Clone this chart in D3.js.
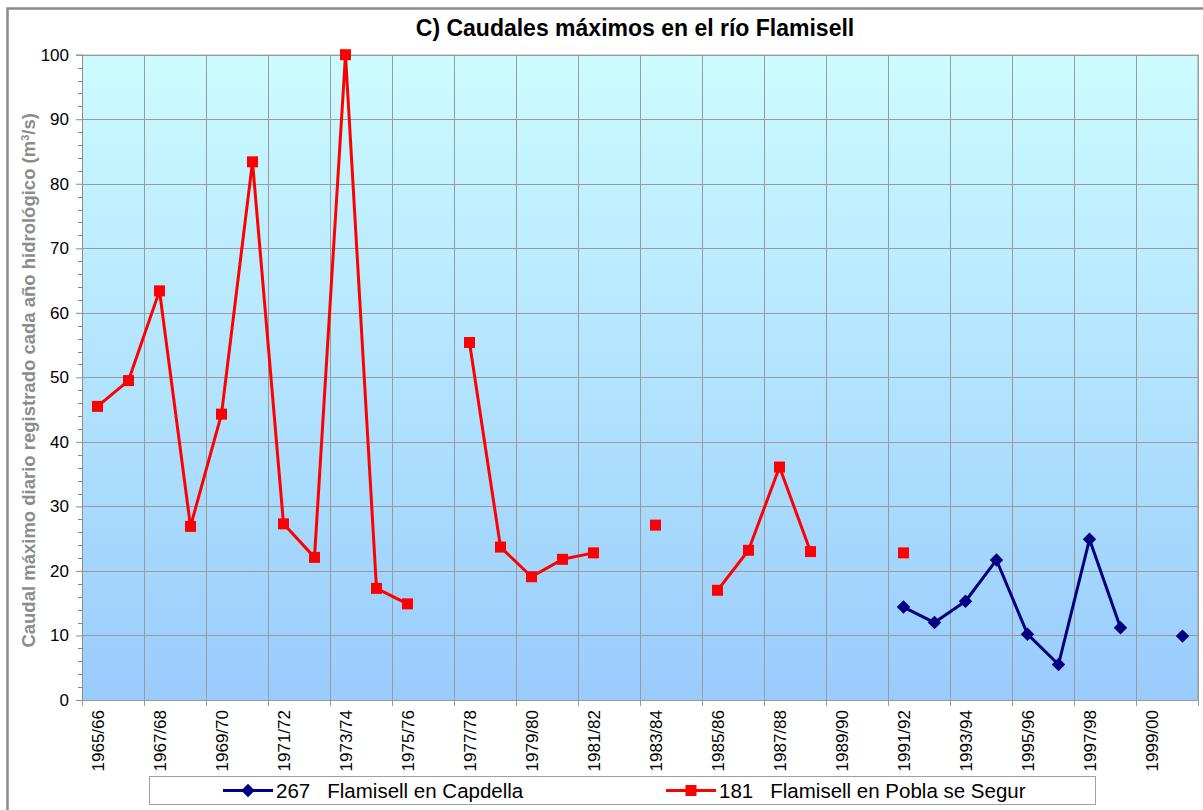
<!DOCTYPE html>
<html>
<head>
<meta charset="utf-8">
<script src="https://cdn.jsdelivr.net/npm/d3@7"></script>
<style>
  html, body { margin: 0; padding: 0; background: #fff; }
  svg { display: block; font-family: Arial, "Liberation Sans", sans-serif; }
</style>
</head>
<body>
<svg id="chart" width="1203" height="810"></svg>
<script>
// Hydrological years (36 seasons)
const years = [
  "1965/66","1966/67","1967/68","1968/69","1969/70","1970/71","1971/72","1972/73",
  "1973/74","1974/75","1975/76","1976/77","1977/78","1978/79","1979/80","1980/81",
  "1981/82","1982/83","1983/84","1984/85","1985/86","1986/87","1987/88","1988/89",
  "1989/90","1990/91","1991/92","1992/93","1993/94","1994/95","1995/96","1996/97",
  "1997/98","1998/99","1999/00","2000/01"
];

// Gauge 267 – Flamisell en Capdella (m3/s)
const capdella = [
  null,null,null,null,null,null,null,null,
  null,null,null,null,null,null,null,null,
  null,null,null,null,null,null,null,null,
  null,null,14.4,12.0,15.3,21.7,10.2,5.5,
  24.9,11.2,null,9.9
];

// Gauge 181 – Flamisell en Pobla de Segur (m3/s)
const pobla = [
  45.5,49.5,63.4,26.9,44.3,83.4,27.3,22.1,
  100,17.3,14.9,null,55.4,23.7,19.1,21.8,
  22.8,null,27.1,null,17.0,23.2,36.1,23.0,
  null,null,22.8,null,null,null,null,null,
  null,null,null,null
];

const yTicks = [0,10,20,30,40,50,60,70,80,90,100];

const seriesNames = ["267   Flamisell en Capdella", "181   Flamisell en Pobla se Segur"];

const svg = d3.select("#chart");

const plot = { left: 82, right: 1198, top: 54.7, bottom: 700 };

const x = d3.scaleBand().domain(years).range([plot.left, plot.right]).padding(0);
const y = d3.scaleLinear().domain([0, 100]).range([plot.bottom, plot.top]);
const cx = d => x(d) + x.bandwidth() / 2;

// Outer chart frame
svg.append("rect")
  .attr("x", 7.5).attr("y", 8.5)
  .attr("width", 1230).attr("height", 840)
  .attr("fill", "#fff")
  .attr("stroke", "#8c8c8c").attr("stroke-width", 2.5);

// Plot background gradient
const defs = svg.append("defs");
const grad = defs.append("linearGradient")
  .attr("id", "bg").attr("x1", 0).attr("y1", 0).attr("x2", 0).attr("y2", 1);
grad.append("stop").attr("offset", "0%").attr("stop-color", "#ccfbff");
grad.append("stop").attr("offset", "100%").attr("stop-color", "#99ccfd");

svg.append("rect")
  .attr("x", plot.left).attr("y", plot.top)
  .attr("width", plot.right - plot.left).attr("height", plot.bottom - plot.top)
  .attr("fill", "url(#bg)");

// Horizontal gridlines
svg.append("g").selectAll("line")
  .data(yTicks)
  .join("line")
  .attr("x1", plot.left).attr("x2", plot.right)
  .attr("y1", d => Math.round(y(d)) + 0.5).attr("y2", d => Math.round(y(d)) + 0.5)
  .attr("stroke", "#9a9a9a").attr("stroke-width", 1);

// Vertical gridlines every two seasons (plus right edge)
const vIdx = d3.range(0, years.length + 1, 2);
const xEdge = i => i < years.length ? x(years[i]) : plot.right;
svg.append("g").selectAll("line")
  .data(vIdx)
  .join("line")
  .attr("x1", i => Math.round(xEdge(i)) + 0.5).attr("x2", i => Math.round(xEdge(i)) + 0.5)
  .attr("y1", plot.top).attr("y2", plot.bottom + 6)
  .attr("stroke", "#9a9a9a").attr("stroke-width", 1);

// Plot border
svg.append("rect")
  .attr("x", plot.left + 0.5).attr("y", plot.top + 0.5)
  .attr("width", plot.right - plot.left - 0.5).attr("height", plot.bottom - plot.top)
  .attr("fill", "none").attr("stroke", "#9a9a9a").attr("stroke-width", 1);

// Y axis with major ticks
const yAxis = d3.axisLeft(y).tickValues(yTicks).tickSize(6).tickPadding(7).tickFormat(d3.format("d"));
const gy = svg.append("g").attr("transform", `translate(${plot.left},0)`).call(yAxis);
gy.select(".domain").attr("stroke", "#8c8c8c");
gy.selectAll(".tick line").attr("stroke", "#8c8c8c");
gy.selectAll(".tick text").attr("font-size", 17).attr("fill", "#000")
  .attr("font-family", "Arial, 'Liberation Sans', sans-serif");

// Minor ticks every 2 units
const minor = d3.range(0, 101, 2).filter(v => v % 10 !== 0);
svg.append("g").selectAll("line")
  .data(minor)
  .join("line")
  .attr("x1", plot.left - 4).attr("x2", plot.left)
  .attr("y1", d => Math.round(y(d)) + 0.5).attr("y2", d => Math.round(y(d)) + 0.5)
  .attr("stroke", "#8c8c8c");

// X axis labels (every second season), rotated
svg.append("g").selectAll("text")
  .data(years.filter((d, i) => i % 2 === 0))
  .join("text")
  .attr("transform", d => `translate(${cx(d) + 6},${plot.bottom + 10}) rotate(-90)`)
  .attr("text-anchor", "end")
  .attr("font-size", 17)
  .attr("fill", "#000")
  .text(d => d);

// Lines and markers
const line = d3.line()
  .defined(d => d.v !== null)
  .x(d => cx(d.k))
  .y(d => y(d.v));

const toPts = arr => years.map((k, i) => ({ k, v: arr[i] }));

const poblaPts = toPts(pobla);
const capPts = toPts(capdella);

svg.append("path")
  .datum(poblaPts)
  .attr("d", line)
  .attr("fill", "none").attr("stroke", "#ff0000").attr("stroke-width", 3)
  .attr("stroke-linejoin", "round");

svg.append("path")
  .datum(capPts)
  .attr("d", line)
  .attr("fill", "none").attr("stroke", "#000080").attr("stroke-width", 3)
  .attr("stroke-linejoin", "round");

const sq = 11;
svg.append("g").selectAll("rect")
  .data(poblaPts.filter(d => d.v !== null))
  .join("rect")
  .attr("x", d => cx(d.k) - sq / 2).attr("y", d => y(d.v) - sq / 2)
  .attr("width", sq).attr("height", sq)
  .attr("fill", "#ff0000");

const diamond = d3.symbol().type(d3.symbolDiamond2).size(115);
svg.append("g").selectAll("path")
  .data(capPts.filter(d => d.v !== null))
  .join("path")
  .attr("transform", d => `translate(${cx(d.k)},${y(d.v)})`)
  .attr("d", diamond)
  .attr("fill", "#000080");

// Title
svg.append("text")
  .attr("x", 635).attr("y", 36)
  .attr("text-anchor", "middle")
  .attr("font-size", 23).attr("font-weight", "bold")
  .attr("fill", "#000")
  .text("C) Caudales máximos en el río Flamisell");

// Y axis title
const yt = svg.append("text")
  .attr("transform", `translate(35,${(plot.top + plot.bottom) / 2 + 3}) rotate(-90)`)
  .attr("text-anchor", "middle")
  .attr("font-size", 18.5).attr("font-weight", "bold")
  .attr("fill", "#8c8c8c");
yt.append("tspan").text("Caudal máximo diario registrado cada año hidrológico (m");
yt.append("tspan").attr("baseline-shift", "super").attr("font-size", 11).text("3");
yt.append("tspan").text("/s)");

// Legend
const lg = svg.append("g");
lg.append("rect")
  .attr("x", 149.5).attr("y", 776.5).attr("width", 946).attr("height", 28)
  .attr("fill", "#fff").attr("stroke", "#a0a0a0").attr("stroke-width", 1);

const legendItems = [
  { name: seriesNames[0], color: "#000080", shape: "diamond", x0: 223 },
  { name: seriesNames[1], color: "#ff0000", shape: "square", x0: 666 }
];
const ly = 790.5;
legendItems.forEach(it => {
  lg.append("line")
    .attr("x1", it.x0).attr("x2", it.x0 + 50)
    .attr("y1", ly).attr("y2", ly)
    .attr("stroke", it.color).attr("stroke-width", 3);
  if (it.shape === "square") {
    lg.append("rect")
      .attr("x", it.x0 + 25 - 5.5).attr("y", ly - 5.5)
      .attr("width", 11).attr("height", 11).attr("fill", it.color);
  } else {
    lg.append("path")
      .attr("transform", `translate(${it.x0 + 25},${ly})`)
      .attr("d", diamond).attr("fill", it.color);
  }
  lg.append("text")
    .attr("x", it.x0 + 53).attr("y", 797.5)
    .attr("font-size", 20.5)
    .attr("fill", "#000")
    .attr("xml:space", "preserve")
    .style("white-space", "pre")
    .text(it.name);
});
</script>
</body>
</html>
